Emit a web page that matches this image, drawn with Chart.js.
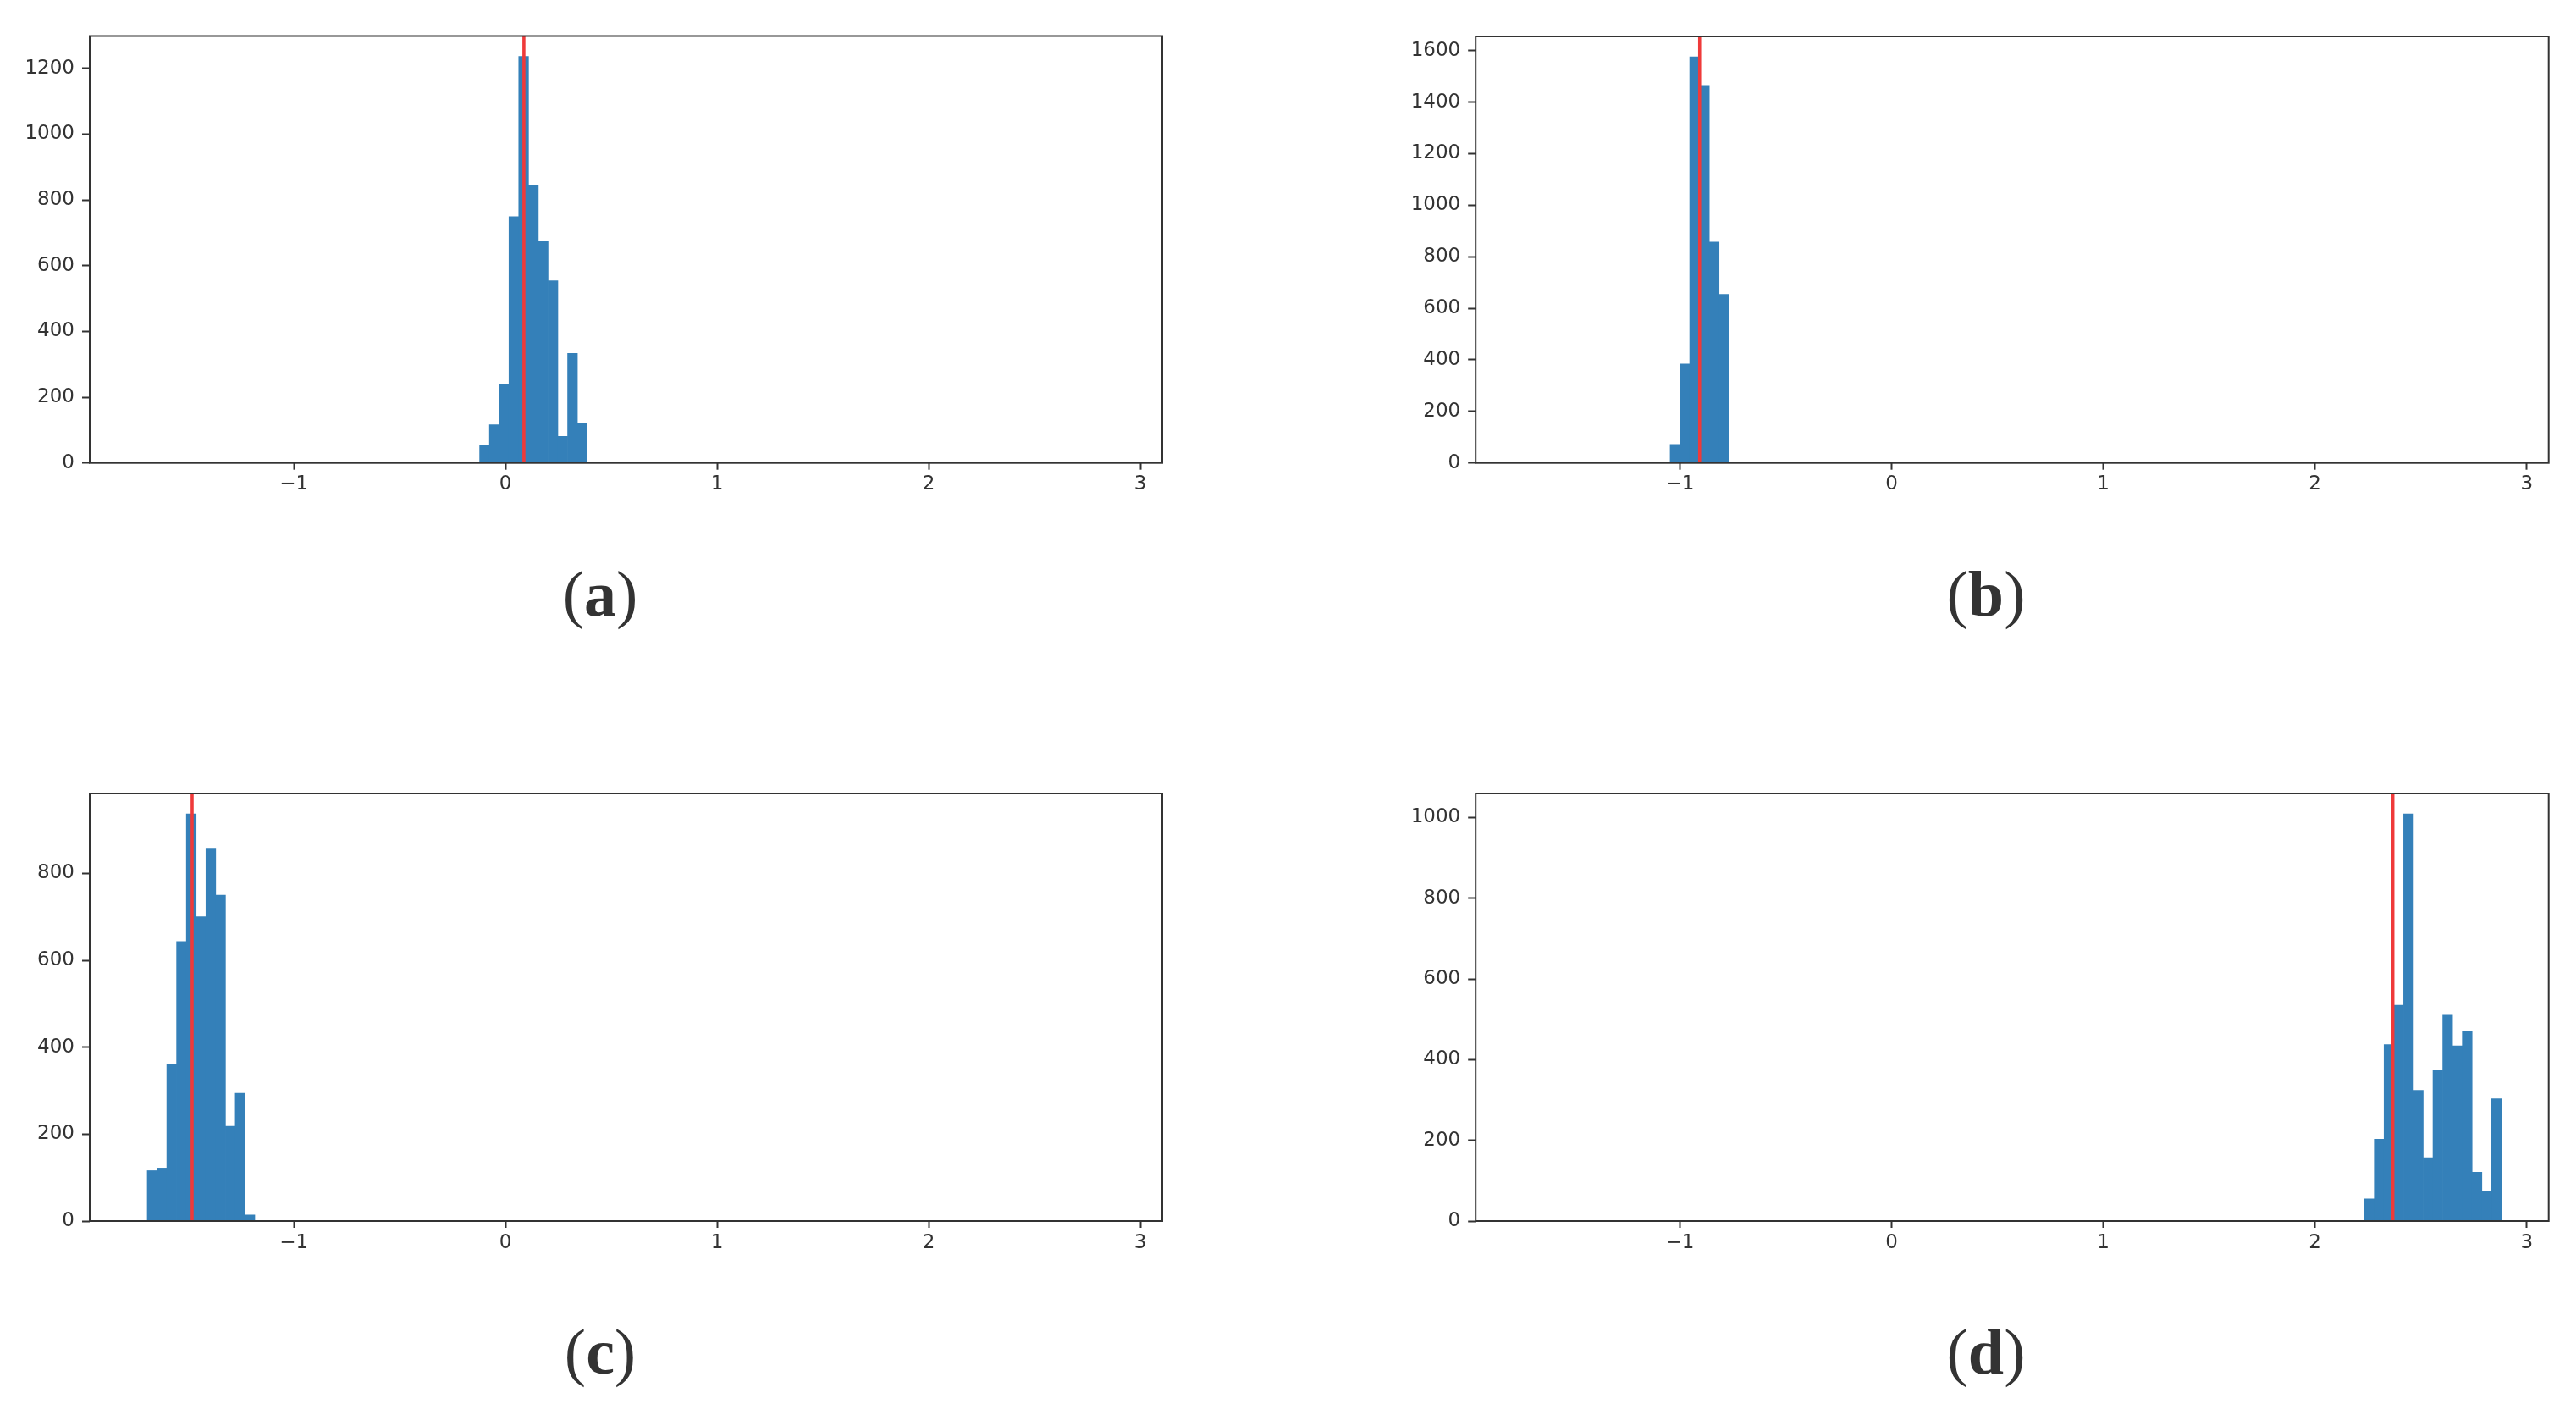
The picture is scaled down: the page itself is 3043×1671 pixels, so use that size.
<!DOCTYPE html>
<html><head><meta charset="utf-8">
<script src="https://cdn.jsdelivr.net/npm/chart.js@4.4.0/dist/chart.umd.min.js"></script>
<style>
html,body{margin:0;padding:0;background:#fff;}
body{width:3043px;height:1671px;position:relative;overflow:hidden;}
canvas{position:absolute;display:block;}
.cap{position:absolute;width:400px;text-align:center;font-family:"Liberation Serif","DejaVu Serif",serif;font-size:76px;line-height:76px;color:#333;white-space:nowrap;}
</style></head><body>
<canvas id="ca" width="1400" height="630" style="left:0px;top:0px"></canvas>
<canvas id="cb" width="1403" height="630" style="left:1640px;top:0px"></canvas>
<canvas id="cc" width="1400" height="650" style="left:0px;top:880px"></canvas>
<canvas id="cd" width="1403" height="650" style="left:1640px;top:880px"></canvas>
<div class="cap" style="left:509px;top:663px">(<b>a</b>)</div>
<div class="cap" style="left:2146px;top:663px">(<b>b</b>)</div>
<div class="cap" style="left:509px;top:1558px">(<b>c</b>)</div>
<div class="cap" style="left:2146px;top:1558px">(<b>d</b>)</div>
<script>
// histogram bin grid (shared)
const BIN_START = -1.693;
const BIN_WIDTH = 0.0462;
// counts per panel and index of first non-empty bin
const countsA = [54, 116, 240, 749, 1237, 846, 673, 554, 81, 333, 121];
const firstBinA = 34;
const countsB = [72, 384, 1576, 1465, 857, 654];
const firstBinB = 14;
const countsC = [116, 122, 361, 643, 937, 700, 856, 750, 218, 294, 14];
const firstBinC = 0;
const countsD = [55, 203, 437, 535, 1009, 324, 157, 373, 510, 434, 469, 121, 75, 303];
const firstBinD = 85;
// red reference lines
const markerA = 0.087;
const markerB = -0.907;
const markerC = -1.481;
const markerD = 2.368;
// axis
const X_MIN = -1.965, X_MAX = 3.104;
const xTickValues = [-1, 0, 1, 2, 3];
const yTickStep = 200;

const BAR_COLOR = '#3480b9';
const LINE_COLOR = '#ef3a3a';
const AXIS_COLOR = '#333333';

const framePlugin = {
  id: 'frame',
  afterDatasetsDraw(chart) {
    const {ctx, chartArea: a} = chart;
    ctx.save();
    ctx.strokeStyle = AXIS_COLOR;
    ctx.lineWidth = 2;
    ctx.strokeRect(a.left, a.top, a.right - a.left, a.bottom - a.top);
    ctx.restore();
  }
};

function makePanel(id, counts, firstBin, marker, lay) {
  const bars = counts.map((c, i) => ({x: BIN_START + (firstBin + i + 0.5) * BIN_WIDTH, y: c}));
  const yMax = Math.max(...counts) * 1.05;
  const yTicks = [];
  for (let v = 0; v <= yMax; v += yTickStep) yTicks.push(v);
  const ctx = document.getElementById(id);
  new Chart(ctx, {
    type: 'bar',
    data: {
      datasets: [
        {type: 'line', data: [{x: marker, y: 0}, {x: marker, y: yMax}], borderColor: LINE_COLOR,
         borderWidth: 3.6, pointRadius: 0, fill: false, order: 0, tension: 0},
        {type: 'bar', data: bars, backgroundColor: BAR_COLOR, borderWidth: 0,
         barPercentage: 1, categoryPercentage: 1, order: 1}
      ]
    },
    options: {
      responsive: false,
      animation: false,
      devicePixelRatio: 1,
      events: [],
      layout: {autoPadding: false, padding: {left: 0, top: lay.top, right: lay.right, bottom: 0}},
      plugins: {legend: {display: false}, tooltip: {enabled: false}, title: {display: false}},
      scales: {
        x: {
          type: 'linear', min: X_MIN, max: X_MAX, offset: false,
          grid: {offset: false, drawOnChartArea: false, drawTicks: true, tickLength: 8, tickWidth: 2, tickColor: AXIS_COLOR, color: AXIS_COLOR},
          border: {display: false},
          ticks: {autoSkip: false, maxRotation: 0, minRotation: 0, padding: 4,
                  color: AXIS_COLOR, font: {family: 'DejaVu Sans', size: 23},
                  callback: v => (v < 0 ? '\u2212' + Math.abs(v) : String(v))},
          afterBuildTicks(s) { s.ticks = xTickValues.map(v => ({value: v})); },
          afterFit(s) { s.height = lay.xh; }
        },
        y: {
          type: 'linear', min: 0, max: yMax,
          grid: {drawOnChartArea: false, drawTicks: true, tickLength: 9, tickWidth: 2, tickColor: AXIS_COLOR, color: AXIS_COLOR},
          border: {display: false},
          ticks: {autoSkip: false, padding: 9,
                  color: AXIS_COLOR, font: {family: 'DejaVu Sans', size: 23},
                  callback: v => String(Math.round(v))},
          afterBuildTicks(s) { s.ticks = yTicks.map(v => ({value: v})); },
          afterFit(s) { s.width = lay.yw; }
        }
      }
    },
    plugins: [framePlugin]
  });
}

makePanel('ca', countsA, firstBinA, markerA, {top: 42.5, right: 27, yw: 106, xh: 630 - 546.7});
makePanel('cb', countsB, firstBinB, markerB, {top: 43, right: 32.3, yw: 103.2, xh: 630 - 546.7});
makePanel('cc', countsC, firstBinC, markerC, {top: 57, right: 27, yw: 106, xh: 650 - 562});
makePanel('cd', countsD, firstBinD, markerD, {top: 57, right: 32.3, yw: 103.2, xh: 650 - 562});
</script>
</body></html>
